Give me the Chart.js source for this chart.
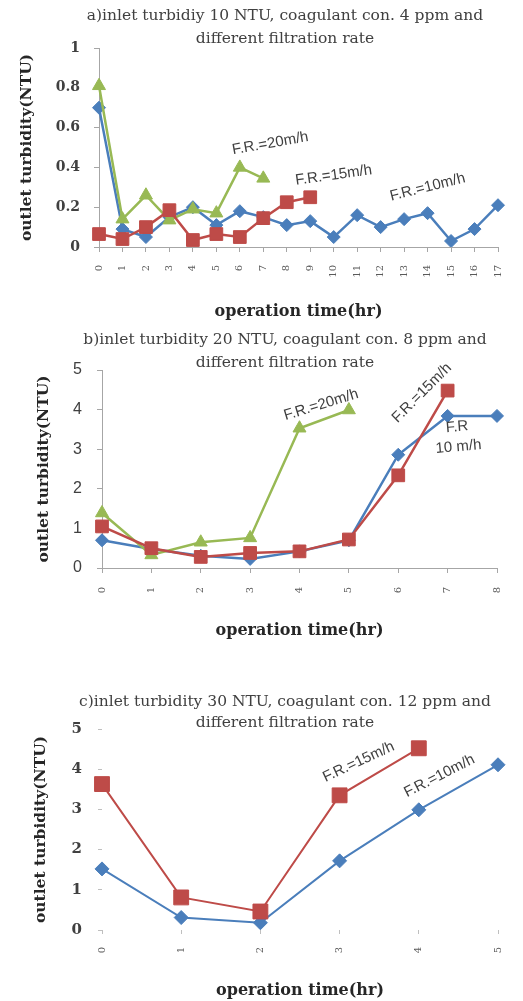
<!DOCTYPE html>
<html>
<head>
<meta charset="utf-8">
<style>
  body { margin: 0; background: #fff; width: 523px; height: 1001px; overflow: hidden; position: relative; }
  .box { position: absolute; left: 0; width: 523px; }
</style>
</head>
<body>
  <div class="box" style="top:0;height:330px"><canvas id="chartA"></canvas></div>
  <div class="box" style="top:330px;height:325px"><canvas id="chartB"></canvas></div>
  <div class="box" style="top:655px;height:346px"><canvas id="chartC"></canvas></div>

<script src="https://cdn.jsdelivr.net/npm/chart.js"></script>
<script>
  // --- data ---
  // a) inlet 10 NTU, 4 ppm
  let hoursA = ['0','1','2','3','4','5','6','7','8','9','10','11','12','13','14','15','16','17'];
  let rate10A = [0.70, 0.09, 0.05, 0.15, 0.20, 0.11, 0.18, 0.15, 0.11, 0.13, 0.05, 0.16, 0.10, 0.14, 0.17, 0.03, 0.09, 0.21];
  let rate15A = [0.065, 0.04, 0.10, 0.185, 0.035, 0.065, 0.05, 0.145, 0.225, 0.25];
  let rate20A = [0.81, 0.14, 0.26, 0.135, 0.19, 0.17, 0.40, 0.345];

  // b) inlet 20 NTU, 8 ppm
  let hoursB = ['0','1','2','3','4','5','6','7','8'];
  let rate10B = [0.70, 0.48, 0.31, 0.23, 0.42, 0.70, 2.86, 3.84, 3.84];
  let rate15B = [1.05, 0.50, 0.28, 0.38, 0.42, 0.72, 2.34, 4.48];
  let rate20B = [1.39, 0.33, 0.65, 0.76, 3.53, 3.99];

  // c) inlet 30 NTU, 12 ppm
  let hoursC = ['0','1','2','3','4','5'];
  let rate10C = [1.52, 0.31, 0.18, 1.72, 2.99, 4.11];
  let rate15C = [3.63, 0.81, 0.46, 3.35, 4.52];

  let blue = '#4A7EBB', red = '#BE4B48', green = '#98B954';
  let serif = '"DejaVu Serif", "Liberation Serif", serif';
  let sans = '"Liberation Sans", Arial, sans-serif';

  // titles and the F.R. notes are drawn here (notes sit at data coordinates)
  let paperText = {
    id: 'paperText',
    afterDraw(chart, args, opts) {
      let ctx = chart.ctx;
      ctx.save();
      ctx.fillStyle = opts.color;
      ctx.textAlign = 'center';
      ctx.textBaseline = 'middle';
      ctx.font = opts.titleFont;
      opts.title.forEach((line, i) => ctx.fillText(line, opts.titleX, opts.titleY[i]));
      ctx.font = opts.noteFont;
      let xs = chart.scales.x, ys = chart.scales.y;
      opts.notes.forEach(n => {
        ctx.save();
        ctx.translate(xs.getPixelForValue(n.x), ys.getPixelForValue(n.y));
        ctx.rotate(n.angle * Math.PI / 180);
        ctx.fillText(n.text, 0, 0);
        ctx.restore();
      });
      ctx.restore();
    }
  };

  function series(label, data, color, shape, radius, width, order) {
    return {
      label: label,
      data: data,
      borderColor: color,
      backgroundColor: color,
      borderWidth: width,
      pointStyle: shape,
      pointRadius: radius,
      pointBorderWidth: 1,
      pointBorderColor: color,
      pointBackgroundColor: color,
      tension: 0,
      order: order
    };
  }

  function makeChart(id, labels, datasets, s) {
    return new Chart(document.getElementById(id), {
      type: 'line',
      data: { labels: labels, datasets: datasets },
      options: {
        responsive: true,
        maintainAspectRatio: false,
        animation: false,
        layout: { padding: { top: s.top, left: 0, right: s.right, bottom: 0 } },
        plugins: {
          legend: { display: false },
          tooltip: { enabled: false },
          paperText: {
            color: '#404040',
            titleFont: '15.5px ' + serif,
            title: s.title,
            titleX: 285,
            titleY: s.titleY,
            noteFont: '15px ' + sans,
            notes: s.notes
          }
        },
        scales: {
          x: {
            offset: false,
            grid: { display: true, drawOnChartArea: false, tickLength: s.tick, color: s.axisColor },
            border: { display: s.border, color: s.axisColor },
            ticks: { autoSkip: false, minRotation: 90, maxRotation: 90, padding: s.xPad,
                     font: { family: serif, size: 10 }, color: '#595959' },
            title: { display: true, text: 'operation time(hr)', color: '#262626',
                     font: { family: serif, size: 16, weight: 'bold' },
                     padding: { top: 0, bottom: s.xTitlePad } },
            afterFit: sc => { sc.height = s.xHeight; }
          },
          y: {
            min: 0,
            max: s.max,
            grid: { display: true, drawOnChartArea: false, tickLength: s.tick, color: s.axisColor },
            border: { display: s.border, color: s.axisColor },
            ticks: { stepSize: s.step, padding: s.yPad, font: s.yFont, color: '#404040',
                     callback: v => String(Math.round(v * 100) / 100) },
            title: { display: true, text: 'outlet turbidity(NTU)', color: '#262626',
                     font: { family: serif, size: 15.5, weight: 'bold' },
                     padding: { top: s.yTitlePad, bottom: 0 } },
            afterFit: sc => { sc.width = s.yWidth; }
          }
        }
      },
      plugins: [paperText]
    });
  }

  makeChart('chartA', hoursA, [
    series('F.R.=10m/h', rate10A, blue, 'rectRot', 6.5, 2.5, 3),
    series('F.R.=15m/h', rate15A, red, 'rect', 9, 2.5, 1),
    series('F.R.=20m/h', rate20A, green, 'triangle', 7.5, 2.5, 2)
  ], {
    top: 48, right: 18, yWidth: 99, xHeight: 83, max: 1, step: 0.2,
    tick: 5, border: true, axisColor: '#A6A6A6', xPad: 13, yPad: 14,
    xTitlePad: 9, yTitlePad: 18,
    yFont: { family: serif, size: 14, weight: 'bold' },
    title: ['a)inlet turbidiy 10 NTU, coagulant con. 4 ppm and', 'different filtration rate'],
    titleY: [16, 39],
    notes: [
      { text: 'F.R.=20m/h', x: 7.3, y: 0.52, angle: -10 },
      { text: 'F.R.=15m/h', x: 10.0, y: 0.36, angle: -8 },
      { text: 'F.R.=10m/h', x: 14.0, y: 0.30, angle: -14 }
    ]
  });

  makeChart('chartB', hoursB, [
    series('F.R.=10m/h', rate10B, blue, 'rectRot', 6.5, 2.5, 3),
    series('F.R.=15m/h', rate15B, red, 'rect', 9, 2.5, 1),
    series('F.R.=20m/h', rate20B, green, 'triangle', 7.5, 2.5, 2)
  ], {
    top: 40, right: 14, yWidth: 102, xHeight: 87, max: 5, step: 1,
    tick: 5, border: true, axisColor: '#A6A6A6', xPad: 14, yPad: 15,
    xTitlePad: 15, yTitlePad: 35,
    yFont: { family: sans, size: 16 },
    title: ['b)inlet turbidity 20 NTU, coagulant con. 8 ppm and', 'different filtration rate'],
    titleY: [10, 33],
    notes: [
      { text: 'F.R.=20m/h', x: 4.44, y: 4.12, angle: -17 },
      { text: 'F.R.=15m/h', x: 6.48, y: 4.42, angle: -45 },
      { text: 'F.R', x: 7.19, y: 3.56, angle: -5 },
      { text: '10 m/h', x: 7.22, y: 3.06, angle: -5 }
    ]
  });

  makeChart('chartC', hoursC, [
    series('F.R.=10m/h', rate10C, blue, 'rectRot', 7, 2, 2),
    series('F.R.=15m/h', rate15C, red, 'rect', 10.5, 2, 1)
  ], {
    top: 74, right: 11, yWidth: 102, xHeight: 71, max: 5, step: 1,
    tick: 4, border: false, axisColor: '#BFBFBF', xPad: 13, yPad: 16,
    xTitlePad: 1, yTitlePad: 32,
    yFont: { family: serif, size: 15, weight: 'bold' },
    title: ['c)inlet turbidity 30 NTU, coagulant con. 12 ppm and', 'different filtration rate'],
    titleY: [47, 68],
    notes: [
      { text: 'F.R.=15m/h', x: 3.24, y: 4.18, angle: -25 },
      { text: 'F.R.=10m/h', x: 4.26, y: 3.83, angle: -27 }
    ]
  });
</script>
</body>
</html>
